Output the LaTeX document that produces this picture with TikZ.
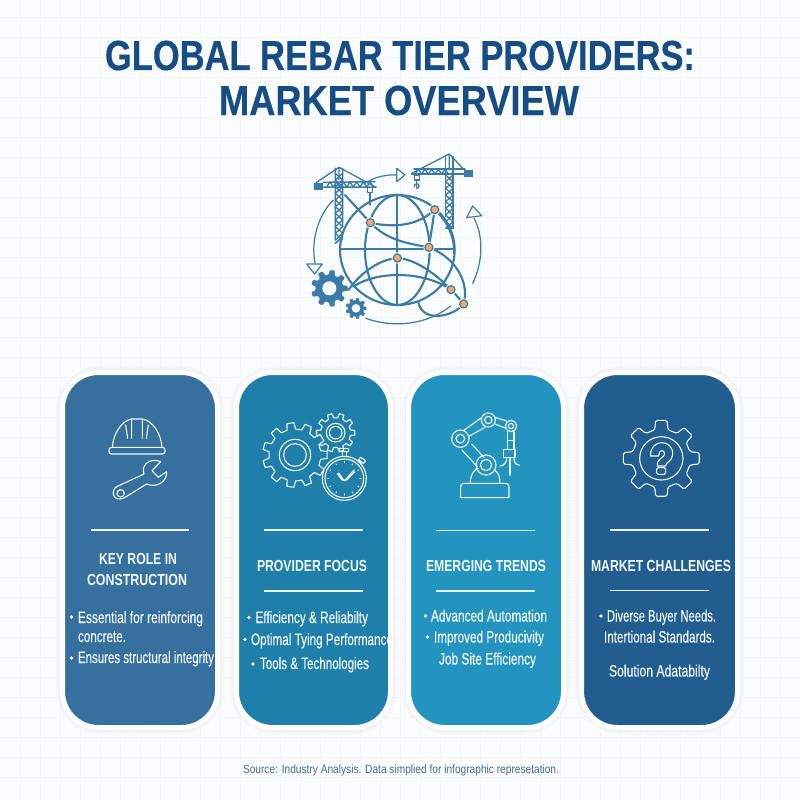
\documentclass[tikz,border=0pt]{standalone}
\usepackage{fontspec}
\usepackage{graphicx}
\setmainfont{Liberation Sans}
\newfontface\bodyface{Liberation Sans}[FakeBold=0.35]
\newfontface\titleface{Liberation Sans Bold}[FakeBold=0.4]
\usetikzlibrary{calc}
\definecolor{bgc}{HTML}{FBFCFD}
\definecolor{gridc}{HTML}{F3F6F8}
\definecolor{titlec}{HTML}{164D85}
\definecolor{srcc}{HTML}{4A6C8C}
\definecolor{iconc}{HTML}{3B7BA8}
\definecolor{orangec}{HTML}{F2AA68}
\definecolor{cardA}{HTML}{36709F}
\definecolor{cardB}{HTML}{1F7FAB}
\definecolor{cardC}{HTML}{2394BF}
\definecolor{cardD}{HTML}{225D8F}
\definecolor{txtc}{HTML}{F2F7FB}
\definecolor{haloc}{HTML}{E4E9EE}
\newsavebox{\fitbox}
% scale text horizontally so that it is exactly #1 px wide
\newcommand{\fitw}[2]{\sbox{\fitbox}{#2}\pgfmathsetmacro{\fitscale}{#1/(\the\wd\fitbox/1pt)}\scalebox{\fitscale}[1]{\usebox{\fitbox}}}
\newcommand{\bodyf}{\fontsize{16.5}{16.5}\bodyface}
\newcommand{\headf}{\fontsize{16}{16}\selectfont\bfseries}
\tikzset{
  x=1pt,y=-1pt,
  lbl/.style={inner sep=0pt,outer sep=0pt,anchor=base west,text=txtc},
  bul/.style={circle,fill=txtc,draw=none,inner sep=0pt,minimum size=3.6pt},
  cardbox/.style={rounded corners=36pt,draw=white,line width=5pt},
  cardhalo/.style={rounded corners=38pt,draw=haloc,line width=#1,opacity=.22},
  rule/.style={draw=white,line width=1.5pt,opacity=.92},
  ico/.style={draw=white,line width=1.1pt,line join=round,line cap=round,opacity=.95},
  glb/.style={draw=iconc,line width=2.1pt,line join=round,line cap=round},
  thn/.style={draw=iconc,line width=1.3pt,line join=round,line cap=round},
  pin/.style={circle,fill=orangec,draw=iconc,line width=1.2pt,inner sep=0pt,minimum size=8pt},
  pinhalo/.style={circle,fill=white,inner sep=0pt,minimum size=11.5pt,opacity=.75},
}
% \gearshape{cx}{cy}{rout}{rin}{teeth}{style}{fill}{startangle}
\newcommand{\gearshape}[8]{%
  \pgfmathsetmacro{\gstep}{360/#5}\pgfmathsetmacro{\gw}{\gstep*0.29}\pgfmathsetmacro{\gv}{\gstep*0.19}%
  \pgfmathsetmacro{\gend}{#8+360-\gstep}\pgfmathsetmacro{\gnext}{#8+\gstep}%
  \path[#6,fill=#7] ($(#1,#2)+(#8-\gw:#4)$)
  \foreach \ga in {#8,\gnext,...,\gend}{ -- ($(#1,#2)+(\ga-\gw:#4)$) -- ($(#1,#2)+(\ga-\gv:#3)$) -- ($(#1,#2)+(\ga+\gv:#3)$) -- ($(#1,#2)+(\ga+\gw:#4)$) } -- cycle;}
\begin{document}
\begin{tikzpicture}[x=1pt,y=-1pt]
\useasboundingbox (0,0) rectangle (800,800);
\fill[bgc] (0,0) rectangle (800,800);
\foreach \g in {20,40,...,780}{
  \draw[gridc,line width=.6pt] (\g,0) -- (\g,800);
  \draw[gridc,line width=.6pt] (0,\g-3) -- (800,\g-3);
}
% title
\node[inner sep=0pt,anchor=base,text=titlec] (title1) at (400,70) {\fitw{590}{\fontsize{42}{42}\titleface GLOBAL REBAR TIER PROVIDERS:}};
\node[inner sep=0pt,anchor=base,text=titlec] (title2) at (399,115) {\fitw{360}{\fontsize{42}{42}\titleface MARKET OVERVIEW}};

% ---------- globe emblem (coordinates: 3x zoom of the emblem area)
\begin{scope}[shift={(290,140)},x=0.33333pt,y=-0.33333pt]
  % left crane
  \draw[thn,line width=1.6pt] (136,85) -- (136,300) (158,85) -- (158,260) (136,310) -- (158,290);
  \foreach \a/\b in {100/120,120/140,140/160,160/180,180/200,200/220,220/240,240/260,260/280,280/300}{
    \draw[thn] (136,\a) -- (158,\b) (158,\a) -- (136,\b);}
  \draw[thn] (147,82) -- (78,128) (147,82) -- (258,142) (147,82) -- (147,120);
  \draw[thn,line width=1.5pt] (100,127) -- (255,125) (100,141) -- (258,141);
  \foreach \a in {110,130,...,230}{\draw[thn] (\a,141) -- (\a+10,126) -- (\a+20,141);}
  \fill[iconc] (72,128) rectangle (100,150);
  \draw[thn] (232,143) rectangle (247,157) (240,157) -- (240,195);
  % right crane
  \draw[thn,line width=1.6pt] (467,50) -- (467,230) (489,50) -- (489,265) (467,265) -- (489,265);
  \foreach \a/\b in {105/125,125/145,145/165,165/185,185/205,205/225,225/245,245/265}{
    \draw[thn] (467,\a) -- (489,\b) (489,\a) -- (467,\b);}
  \draw[thn] (478,42) -- (365,100) (478,42) -- (525,92) (478,42) -- (478,85);
  \draw[thn,line width=1.5pt] (365,102) -- (525,102) (372,87) -- (525,87);
  \foreach \a in {375,395,...,455}{\draw[thn] (\a,102) -- (\a+10,88) -- (\a+20,102);}
  \fill[iconc] (522,90) rectangle (550,110);
  \draw[thn] (373,105) rectangle (388,120) (380,120) -- (380,143);
  \draw[thn] (380,145) arc[start angle=90,end angle=-200,radius=7];
  % circling arrows
  \draw[thn,line width=1.2pt] (225,130) .. controls (255,110) and (290,103) .. (320,105);
  \path[thn,line width=1.2pt,fill=bgc] (320,85) -- (345,105) -- (320,125) -- cycle;
  \draw[thn,line width=1.2pt] (130,180) .. controls (85,225) and (62,300) .. (75,370);
  \path[thn,line width=1.2pt,fill=bgc] (50,372) -- (97,372) -- (74,402) -- cycle;
  \draw[thn,line width=1.2pt] (548,430) .. controls (578,370) and (582,290) .. (552,235);
  \path[thn,line width=1.2pt,fill=bgc] (530,233) -- (575,227) -- (548,198) -- cycle;
  \draw[thn,line width=1.2pt] (228,535) .. controls (310,565) and (410,555) .. (482,498);
  % globe
  \draw[glb] (322,330) ellipse[x radius=172,y radius=165];
  \draw[glb] (322,330) ellipse[x radius=97,y radius=165];
  \draw[glb] (322,165) -- (322,495);
  \draw[glb] (155,327) -- (492,327);
  \draw[glb] (241,248) .. controls (300,262) and (380,262) .. (434,209);
  \draw[glb] (165,165) -- (241,248) .. controls (290,300) and (350,310) .. (417,322);
  \draw[glb] (434,209) -- (417,322);
  \draw[glb] (417,322) .. controls (490,350) and (540,420) .. (521,492) .. controls (490,530) and (400,550) .. (385,488);
  \draw[glb] (434,209) .. controls (470,240) and (495,290) .. (492,340);
  \draw[glb] (175,450) .. controls (215,395) and (270,358) .. (322,354) .. controls (380,358) and (440,405) .. (483,449);
  \draw[glb] (190,440) .. controls (260,392) and (400,392) .. (483,449) .. controls (500,465) and (510,480) .. (521,492);
  % gears
  \gearshape{118}{445}{55}{41}{9}{draw=iconc,line width=.2pt,rounded corners=1pt}{iconc}{0}
  \fill[bgc] (118,445) circle[radius=21];
  \gearshape{198}{505}{31}{24}{9}{draw=iconc,line width=.2pt}{iconc}{0}
  \fill[bgc] (198,505) circle[radius=13];
  % pins
  \foreach \n/\px/\py in {h1/241/248,h2/434/209,h3/417/322,h4/322/354,h5/483/449,h6/521/492}{
    \node[pinhalo] (\n) at (\px,\py) {};}
  \node[pin] (p1) at (241,248) {};
  \node[pin] (p2) at (434,209) {};
  \node[pin] (p3) at (417,322) {};
  \node[pin] (p4) at (322,354) {};
  \node[pin] (p5) at (483,449) {};
  \node[pin] (p6) at (521,492) {};
\end{scope}

% ---------- cards
\foreach \xa/\xb/\cc in {62.5/217.5/cardA,236.5/390.5/cardB,408.5/563.5/cardC,581.5/737.5/cardD}{
  \draw[cardhalo=13pt] (\xa,372.5) rectangle (\xb,727.5);
  \draw[cardhalo=9pt] (\xa,372.5) rectangle (\xb,727.5);
  \draw[cardbox,fill=\cc] (\xa,372.5) rectangle (\xb,727.5);
}

% ---------- icons, cards 1-2
\begin{scope}[shift={(50,370)},x=0.33333pt,y=-0.33333pt]
  % helmet
  \draw[ico] (187,232) .. controls (190,190) and (215,152) .. (245,147) -- (277,147) .. controls (308,152) and (333,190) .. (336,232);
  \draw[ico] (184,232) -- (338,232) .. controls (348,232) and (348,252) .. (338,252) -- (184,252) .. controls (174,252) and (174,232) .. (184,232);
  \draw[ico] (245,147) -- (245,205) (277,147) -- (277,205) (227,165) -- (233,205) (295,165) -- (289,205);
  % wrench
  \draw[ico] (222,384) -- (290,342) .. controls (320,355) and (352,335) .. (350,305) -- (325,322) -- (306,302) -- (332,275) .. controls (300,262) and (272,285) .. (282,312) -- (200,350) .. controls (180,362) and (190,398) .. (222,384) -- cycle;
  \draw[ico] (212,370) circle[radius=11];
  % gears icon
  \gearshape{857}{188}{58}{45}{10}{ico}{cardB}{0}
  \draw[ico] (857,188) circle[radius=28] (857,188) circle[radius=19];
  \gearshape{735}{255}{97}{78}{11}{ico}{cardB}{0}
  \draw[ico] (735,255) circle[radius=47] (735,255) circle[radius=34];
  % stopwatch
  \draw[ico] (878,245) -- (878,258) (890,245) -- (890,258);
  \draw[ico,rounded corners=1pt] (866,235) rectangle (896,245);
  \draw[ico] (925,272) -- (935,282) (932,262) -- (947,272) -- (941,280) -- (926,270) -- cycle;
  \draw[ico,fill=cardB] (883,325) circle[radius=66];
  \draw[ico] (883,325) circle[radius=58];
  \foreach \t in {0,30,...,330}{\draw[ico] ($(883,325)+(\t:47)$) -- ($(883,325)+(\t:50)$);}
  \draw[ico] (883,333) -- (866,309) (883,333) -- (913,299) (876,330) -- (862,311) (876,330) -- (890,330) -- (915,305);
\end{scope}

% ---------- icons, cards 3-4
\begin{scope}[shift={(400,370)},x=0.33333pt,y=-0.33333pt]
  % robot
  \draw[ico] (190,340) -- (318,340) .. controls (325,340) and (327,346) .. (327,352) -- (327,383) -- (182,383) -- (182,352) .. controls (182,346) and (184,340) .. (190,340) -- cycle;
  \draw[ico] (210,340) .. controls (212,315) and (220,300) .. (235,295) (282,300) .. controls (295,305) and (300,320) .. (300,340);
  \draw[ico] (186,240) -- (232,290) (215,222) -- (252,262);
  \draw[ico] (190,182) -- (246,142) (205,200) -- (258,170);
  \draw[ico] (285,142) -- (320,153) (285,162) -- (318,175);
  \draw[ico] (258,285) circle[radius=30] (258,285) circle[radius=17];
  \draw[ico] (181,206) circle[radius=26] (181,206) circle[radius=13];
  \draw[ico] (265,150) circle[radius=21] (265,150) circle[radius=11];
  \draw[ico] (333,168) circle[radius=17] (333,168) circle[radius=8];
  \draw[ico] (322,185) -- (322,238) (342,185) -- (342,238) (322,212) -- (342,212);
  \draw[ico] (311,238) rectangle (345,262);
  \draw[ico] (330,262) -- (330,315);
  \draw[ico] (320,263) .. controls (320,275) and (315,286) .. (300,288) (342,263) .. controls (342,275) and (345,285) .. (358,285);
  % gear with question mark
  \gearshape{784}{265}{115}{88}{8}{ico,rounded corners=1.5pt}{cardD}{0}
  \draw[ico] (784,265) circle[radius=65];
  \draw[ico] (752,258) .. controls (748,205) and (822,205) .. (818,255) .. controls (816,275) and (797,275) .. (797,288) -- (772,288) .. controls (770,262) and (795,265) .. (794,250) .. controls (792,237) and (775,240) .. (776,258) -- cycle;
  \draw[ico,rounded corners=1.5pt] (770,293) rectangle (797,313);
\end{scope}

% ---------- dividers
\draw[rule] (90.5,530) -- (189,530);
\draw[rule] (264,530) -- (363,530) (264,591) -- (363,591);
\draw[rule] (436,530.5) -- (535,530.5) (436,591) -- (535,591);
\draw[rule] (610,530) -- (709,530) (610,590.5) -- (709,590.5);

% ---------- card 1 text
\node[lbl,anchor=base] (h1a) at (138,564.5) {\fitw{78}{\headf KEY ROLE IN}};
\node[lbl,anchor=base] (h1b) at (137,585.5) {\fitw{100}{\headf CONSTRUCTION}};
\node[bul] (b1a) at (71.5,617) {};
\node[lbl] (t1a) at (78,623) {\fitw{125}{\bodyf Essential for reinforcing}};
\node[lbl] (t1b) at (78,642) {\fitw{48}{\bodyf concrete.}};
\node[bul] (b1c) at (71.5,658) {};
\node[lbl] (t1c) at (78,663) {\fitw{136}{\bodyf Ensures structural integrity}};
% card 2 text
\node[lbl,anchor=base] (h2) at (312,571) {\fitw{110}{\headf PROVIDER FOCUS}};
\node[bul] (b2a) at (249,617.5) {};
\node[lbl] (t2a) at (255.5,623) {\fitw{112.5}{\bodyf Efficiency \& Reliabilty}};
\node[bul] (b2b) at (245,639.5) {};
\node[lbl] (t2b) at (251,645) {\fitw{142}{\bodyf Optimal Tying Performance}};
\node[bul] (b2c) at (253,664) {};
\node[lbl] (t2c) at (260,669) {\fitw{109}{\bodyf Tools \& Technologies}};
% card 3 text
\node[lbl,anchor=base] (h3) at (486,571) {\fitw{120}{\headf EMERGING TRENDS}};
\node[bul] (b3a) at (425.5,616) {};
\node[lbl] (t3a) at (431,621.5) {\fitw{116}{\bodyf Advanced Automation}};
\node[bul] (b3b) at (427.5,637) {};
\node[lbl] (t3b) at (434,642.5) {\fitw{110}{\bodyf Improved Producivity}};
\node[lbl] (t3c) at (439,664.5) {\fitw{97}{\bodyf Job Site Efficiency}};
% card 4 text
\node[lbl,anchor=base] (h4) at (661,571) {\fitw{140}{\headf MARKET CHALLENGES}};
\node[bul] (b4a) at (601,616) {};
\node[lbl] (t4a) at (607,621.5) {\fitw{109}{\bodyf Diverse Buyer Needs.}};
\node[lbl] (t4b) at (604,642.5) {\fitw{111}{\bodyf Intertional Standards.}};
\node[lbl] (t4c) at (609,676.5) {\fitw{101}{\bodyf Solution Adatabilty}};
% source
\node[lbl,text=srcc,anchor=base] (src) at (401,773) {\fitw{316}{\fontsize{12}{12}\selectfont Source: Industry Analysis. Data simplied for infographic represetation.}};
\end{tikzpicture}
\end{document}
